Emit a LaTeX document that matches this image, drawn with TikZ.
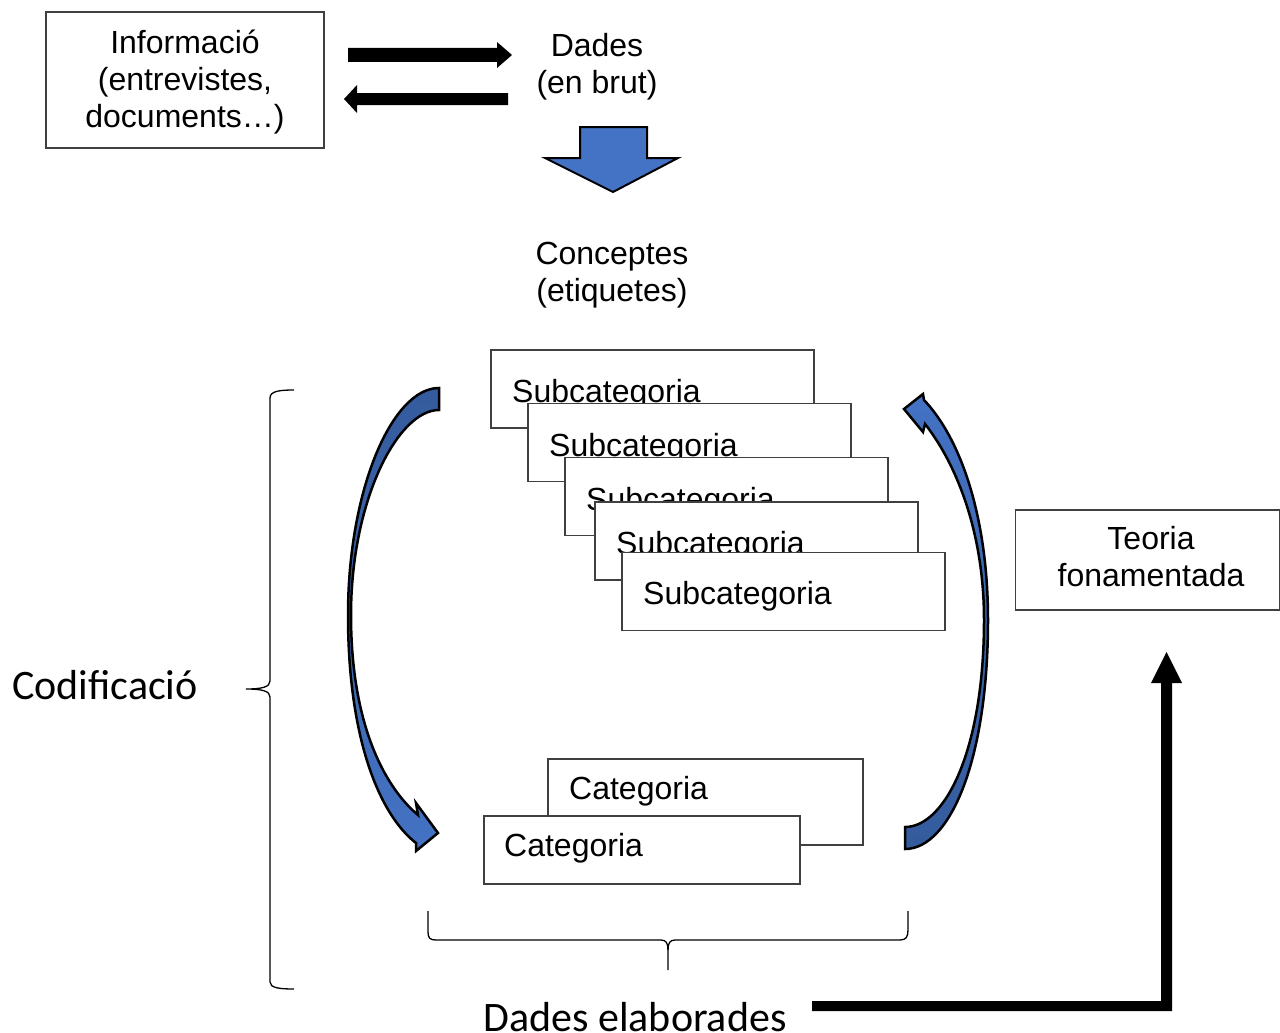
\documentclass[tikz,border=0pt]{standalone}
\usepackage{fontspec}
\setmainfont{Liberation Sans}
\newfontfamily\calib{Carlito}
\definecolor{arrblue}{HTML}{4472C4}
\definecolor{arrdark}{HTML}{345B9C}
\begin{document}
\begin{tikzpicture}[x=1pt,y=-1pt,
  box/.style={draw=black!75, line width=1.3pt, fill=white, inner sep=0pt, rectangle},
  txt/.style={font=\fontsize{32}{37}\selectfont, inner sep=0pt, align=center, anchor=base},
  ltxt/.style={font=\fontsize{32}{37}\selectfont, inner sep=0pt, anchor=base west},
  big/.style={font=\calib\fontsize{42}{50}\selectfont, inner sep=0pt},
  blk/.style={fill=black},
  band/.style={draw=black, line width=2.5pt, line join=miter},
  brace/.style={draw=black, line width=1.3pt},
]
\useasboundingbox[fill=white] (0,0) rectangle (1280,1033);

% source box and raw data (multi-line texts are placed by their last baseline)
\node[box, minimum width=278pt, minimum height=136pt] (info) at (185,80) {};
\node[txt] (infotxt) at (185,128) {Informació\\(entrevistes,\\documents…)};
\node[txt] (dades) at (597,93) {Dades\\(en brut)};

% two-way black arrows
\coordinate (ra) at (348,55);
\coordinate (la) at (508,99);
\fill[blk] (ra) ++(0,-7) -- (497,48) -- (497,42) -- (512,55) -- (497,68) -- (497,62) -- (348,62) -- cycle;
\fill[blk] (la) ++(0,-6) -- (357,93) -- (357,85) -- (344,99) -- (357,113) -- (357,105) -- (508,105) -- cycle;

% block arrow down to concepts
\draw[draw=black, line width=2pt, fill=arrblue, line join=miter]
  (580,127) -- (647,127) -- (647,158) -- (678,158) -- (613,192) -- (545,158) -- (580,158) -- cycle;
\node[txt] (conc) at (612,301) {Conceptes\\(etiquetes)};

% stack of subcategories
\node[box, minimum width=323pt, minimum height=78pt] (s1) at (652.5,389) {};
\node[ltxt] (s1t) at (512,402) {Subcategoria};
\node[box, minimum width=323pt, minimum height=78pt] (s2) at (689.5,442.5) {};
\node[ltxt] (s2t) at (549,456) {Subcategoria};
\node[box, minimum width=323pt, minimum height=78pt] (s3) at (726.5,496.5) {};
\node[ltxt] (s3t) at (586,510) {Subcategoria};
\node[box, minimum width=323pt, minimum height=78pt] (s4) at (756.5,541) {};
\node[ltxt] (s4t) at (616,554) {Subcategoria};
\node[box, minimum width=323pt, minimum height=78pt] (s5) at (783.5,591.5) {};
\node[ltxt] (s5t) at (643,604) {Subcategoria};

% categories
\node[box, minimum width=315pt, minimum height=86pt] (c1) at (705.5,802) {};
\node[ltxt] (c1t) at (569,799) {Categoria};
\node[box, minimum width=316pt, minimum height=68pt] (c2) at (642,850) {};
\node[ltxt] (c2t) at (504,856) {Categoria};

% curved arrow going down (left)
\path[band, top color=arrdark, bottom color=arrblue]
  (439,388) .. controls (392,388) and (348,490) .. (348,615)
  .. controls (348,740) and (380,815) .. (416,843)
  -- (416,851) -- (438,833) -- (416,803) -- (418,815)
  .. controls (388,790) and (351,730) .. (351,615)
  .. controls (351,500) and (398,410) .. (439,410) -- cycle;

% curved arrow going up (right)
\path[band, top color=arrblue, bottom color=arrdark]
  (905,849) .. controls (950,849) and (988,760) .. (988,620)
  .. controls (988,520) and (962,440) .. (924,400)
  -- (923,394) -- (904,409) -- (923,432) -- (925,424)
  .. controls (955,462) and (984,530) .. (984,620)
  .. controls (984,750) and (945,827) .. (905,827) -- cycle;

% grounded theory
\node[box, minimum width=264pt, minimum height=100pt] (teo) at (1147.5,560) {};
\node[txt] (teot) at (1151,586) {Teoria\\fonamentada};

% coding brace
\draw[brace] (294,390) .. controls (280,390) and (270,391) .. (270,398) -- (270,681)
  .. controls (270,687) and (262,689) .. (246,689)
  .. controls (262,689) and (270,691) .. (270,697) -- (270,982)
  .. controls (270,988) and (280,989) .. (294,989);
\node[big, anchor=base west] (cod) at (12,699) {Codificació};

% elaborated data brace
\draw[brace] (428,911) -- (428,932) .. controls (428,938) and (430,940) .. (436,940) -- (661,940)
  .. controls (666,940) and (668,943) .. (668,950) -- (668,970);
\draw[brace] (668,950) .. controls (668,943) and (670,940) .. (675,940) -- (900,940)
  .. controls (906,940) and (908,937) .. (908,930) -- (908,911);
\node[big, anchor=base] (delab) at (635,1031) {Dades elaborades};

% elbow arrow to the theory
\coordinate (lstart) at (812,1006);
\fill[blk] (lstart) ++(0,-5) -- (1161,1001) -- (1161,683) -- (1151,683) -- (1166.5,652)
  -- (1182,683) -- (1172,683) -- (1172,1011) -- (812,1011) -- cycle;
\end{tikzpicture}
\end{document}
